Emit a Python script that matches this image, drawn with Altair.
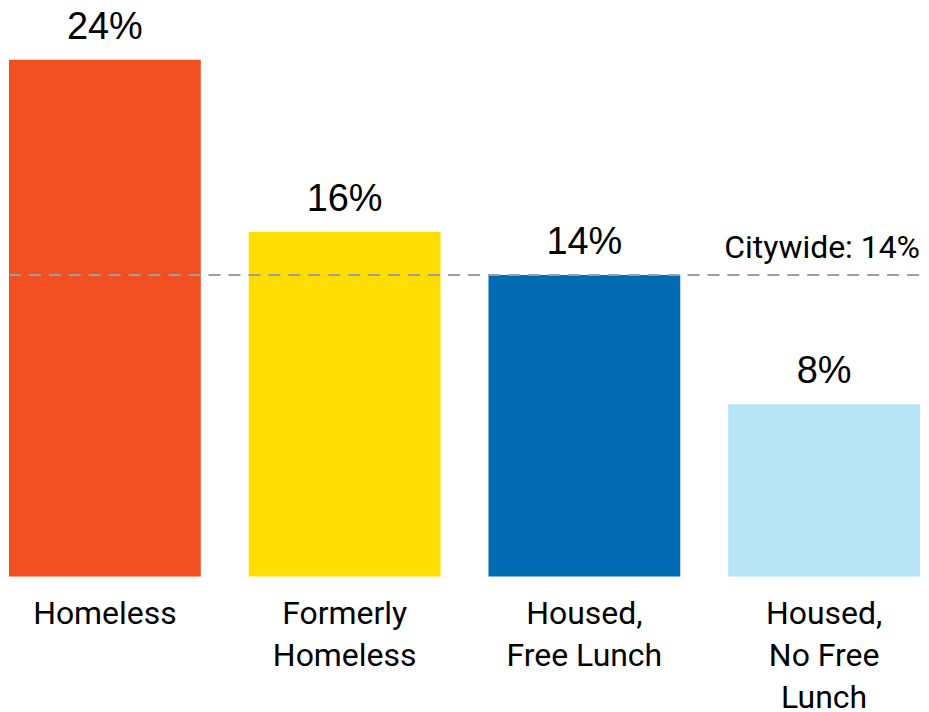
import altair as alt
import pandas as pd

categories = ["Homeless", "Formerly Homeless", "Housed, Free Lunch", "Housed, No Free Lunch"]
label_lines = [["Homeless"], ["Formerly", "Homeless"], ["Housed,", "Free Lunch"], ["Housed,", "No Free", "Lunch"]]
values = [24, 16, 14, 8]
value_labels = ["24%", "16%", "14%", "8%"]
colors = ["#F24F23", "#FFDD00", "#006BB3", "#B8E4F8"]
citywide = 14
citywide_label = "Citywide: 14%"

FONT = "Roboto, sans-serif"
NUM_FONT = "Liberation Sans, Arial, sans-serif"

df = pd.DataFrame({"cat": categories, "value": values, "label": value_labels})
ref = pd.DataFrame({"value": [citywide], "label": [citywide_label]})

mapping = "{" + ",".join(
    "'" + c + "':[" + ",".join("'" + l + "'" for l in lines) + "]"
    for c, lines in zip(categories, label_lines)
) + "}"

W = 913
H = 568

x = alt.X("cat:N", sort=categories,
          scale=alt.Scale(paddingInner=0.2, paddingOuter=0),
          axis=alt.Axis(title=None, domain=False, ticks=False, labelAngle=0,
                        labelFont=FONT, labelFontSize=32, labelColor="#000",
                        labelLineHeight=42, labelPadding=22,
                        labelExpr=mapping + "[datum.value]"))
y = alt.Y("value:Q", scale=alt.Scale(domain=[0, 26.32], nice=False, zero=True),
          axis=None)

bars = alt.Chart(df).mark_bar().encode(
    x=x, y=y,
    color=alt.Color("cat:N", scale=alt.Scale(domain=categories, range=colors), legend=None),
)

texts = alt.Chart(df).mark_text(font=NUM_FONT, fontSize=38, dy=-21, baseline="alphabetic",
                                color="#000").encode(
    x=alt.X("cat:N", sort=categories), y="value:Q", text="label:N")

rule = alt.Chart(ref).mark_rule(color="#9E9E9E", strokeWidth=2, strokeDash=[12, 8]).encode(
    y="value:Q", x=alt.value(0), x2=alt.value(W))

ref_text = alt.Chart(ref).mark_text(font=FONT, fontSize=32, align="right", baseline="alphabetic",
                                    dy=-17, color="#000").encode(
    y="value:Q", x=alt.value(W), text="label:N")

chart = alt.layer(bars, texts, rule, ref_text).properties(
    width=W, height=H, background="white",
    padding={"left": 0, "top": 0, "right": 0, "bottom": 0},
).configure_view(stroke=None)

chart.save("out.html", embed_options={"renderer": "svg", "actions": False})
